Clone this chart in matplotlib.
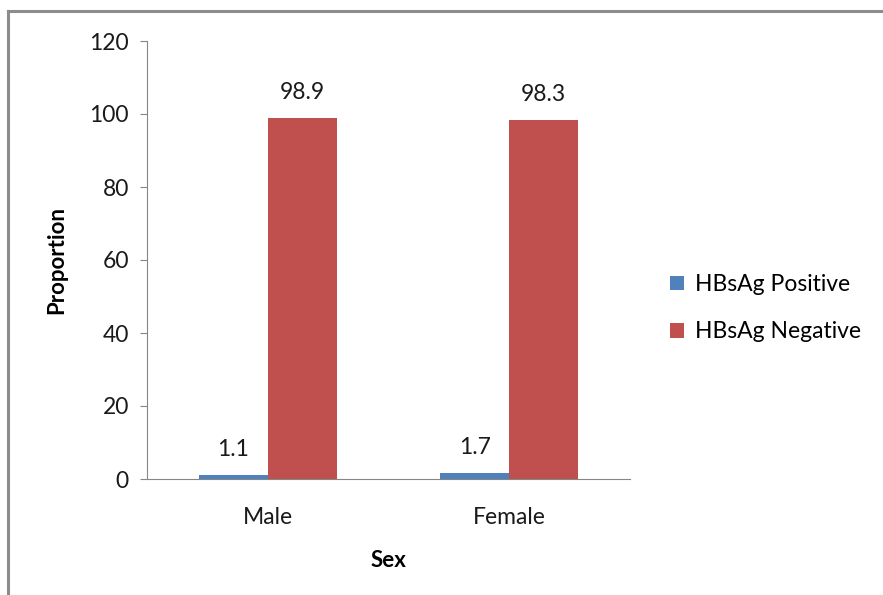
import numpy as np
from matplotlib import pyplot as plt
from matplotlib.lines import Line2D

''' --------------------------- data ----------------------------------'''
categories = ['Male', 'Female']
positive = [1.1, 1.7]
negative = [98.9, 98.3]
series_names = ['HBsAg Positive', 'HBsAg Negative']
yticks = [0, 20, 40, 60, 80, 100, 120]

''' --------------------------- plot ----------------------------------'''
plt.rcParams['font.family'] = ['Lato', 'DejaVu Sans']
fig = plt.figure(figsize=(8.83, 5.95), dpi=100)
ax = fig.add_axes([147 / 883, 116 / 595, 483 / 883, 438 / 595])

x = np.arange(len(categories))
w = 0.285
b1 = ax.bar(x - w / 2, positive, w, color='#4F81BD', label=series_names[0])
b2 = ax.bar(x + w / 2, negative, w, color='#C0504D', label=series_names[1])
for bars, vals in ((b1, positive), (b2, negative)):
    for r, v in zip(bars, vals):
        ax.annotate(f'{v}', (r.get_x() + r.get_width() / 2, v), xytext=(0, 11),
                    textcoords='offset points', ha='center', va='bottom',
                    fontsize=16.5, color='#1a1a1a')

ax.set_xlim(-0.5, 1.5)
ax.set_ylim(0, 120)
ax.set_yticks(yticks)
ax.set_xticks(x)
ax.set_xticklabels(categories)
ax.tick_params(axis='y', length=5, color='#868686', labelsize=16.5, pad=8, labelcolor='#1a1a1a')
ax.tick_params(axis='x', length=0, labelsize=16.5, pad=20, labelcolor='#1a1a1a')
for s in ['top', 'right']:
    ax.spines[s].set_visible(False)
for s in ['left', 'bottom']:
    ax.spines[s].set_color('#868686')
ax.set_xlabel('Sex', fontsize=16, fontweight='bold', labelpad=16)
ax.set_ylabel('Proportion', fontsize=16, fontweight='bold', labelpad=16)

ax.legend(loc='center left', bbox_to_anchor=(1.04, 0.39), frameon=False,
          fontsize=16.5, handlelength=0.6, handleheight=0.6, handletextpad=0.5,
          labelspacing=1.15)

# outer frame of the chart area
fig.add_artist(Line2D([8 / 883, 8 / 883], [0, 1 - 11 / 595], color='#8c8c8c', lw=2.2))
fig.add_artist(Line2D([8 / 883, 1], [1 - 11 / 595, 1 - 11 / 595], color='#8c8c8c', lw=2.2))

plt.savefig('out.png', dpi=100)
